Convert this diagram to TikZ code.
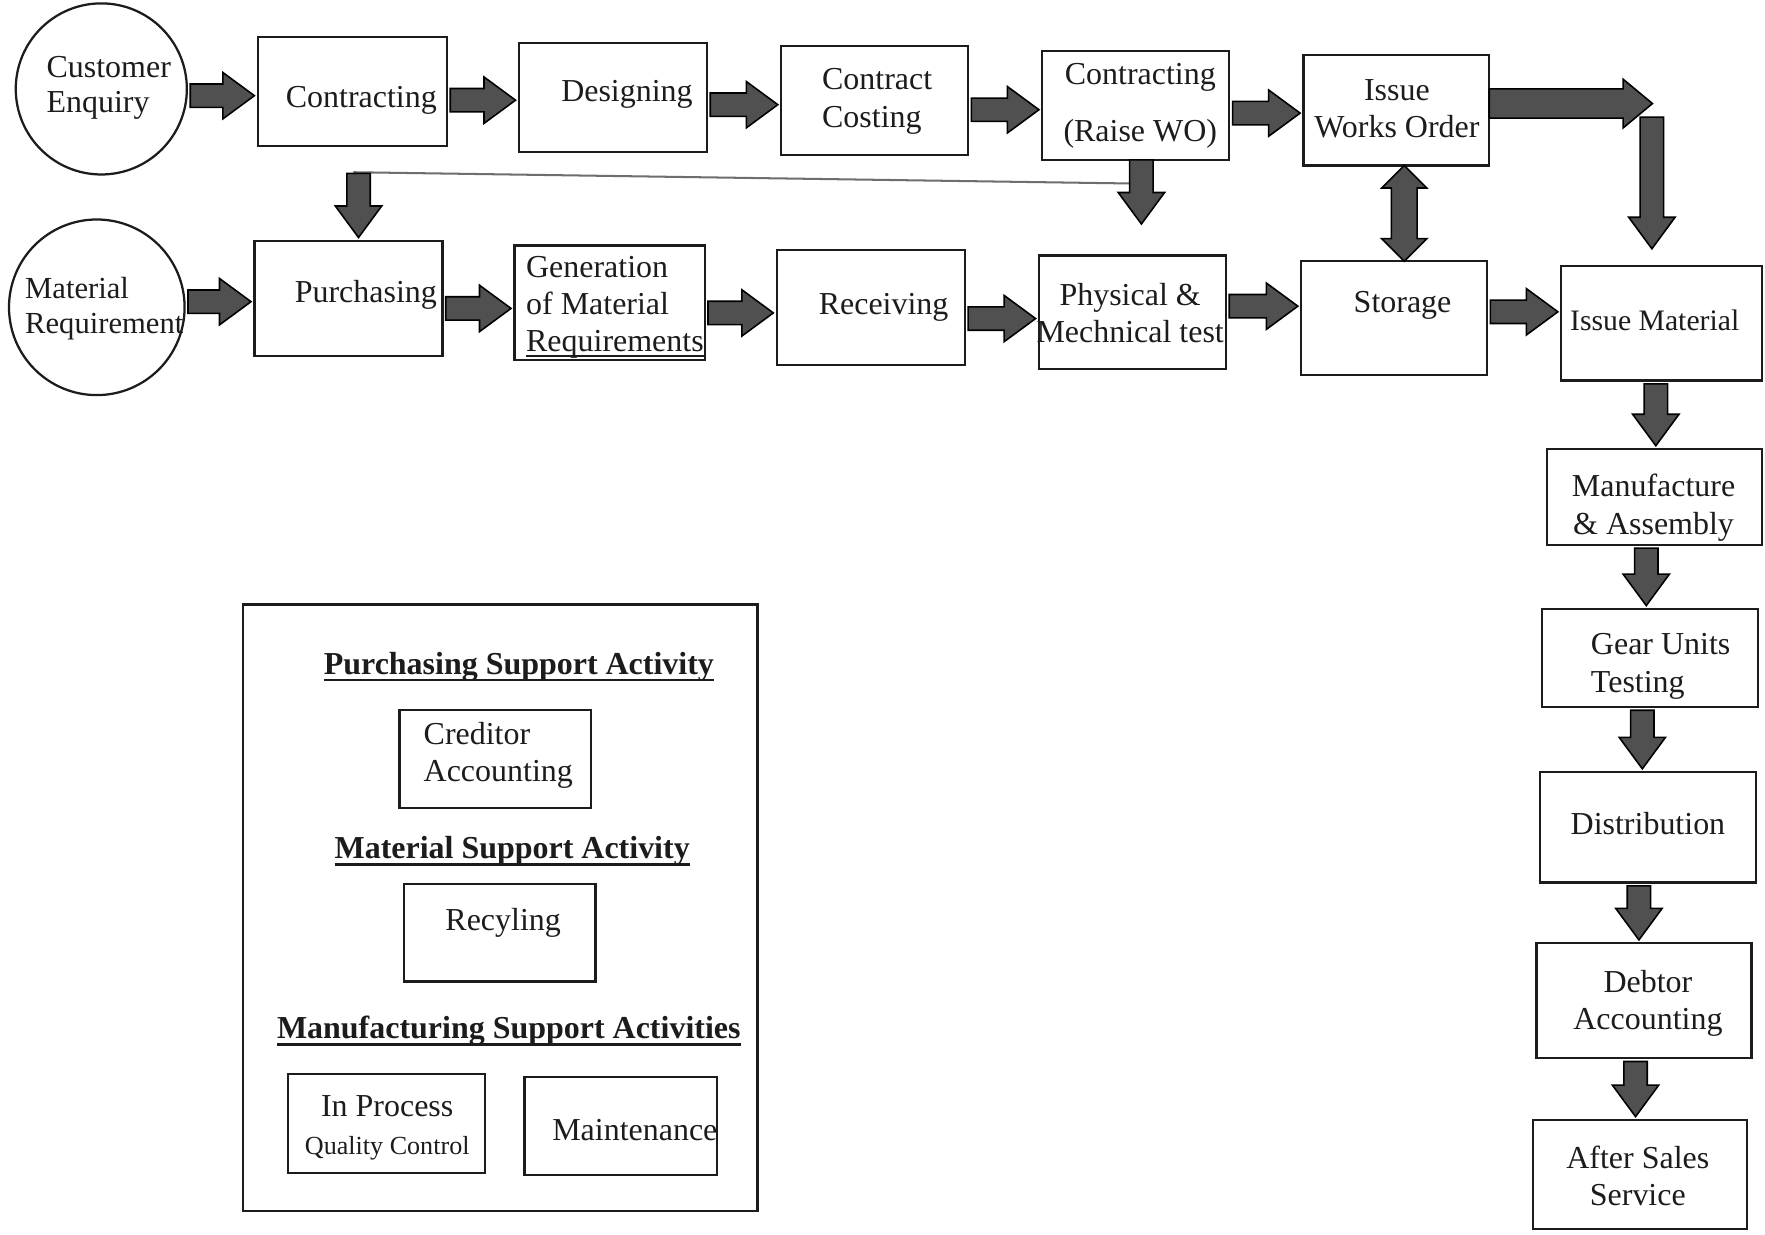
\documentclass[tikz,border=0pt]{standalone}
\usepackage{fontspec}
\setmainfont{Liberation Serif}
\usetikzlibrary{calc,fit}

\definecolor{ink}{HTML}{1C1C1C}
\definecolor{arrowfill}{HTML}{505050}
\definecolor{linkline}{HTML}{6E6E6E}

\newcommand\txtsize{\fontsize{14.2}{16.5}\selectfont}
\newcommand\smallsize{\fontsize{11.6}{14}\selectfont}
% text with a rule under it: depth of the rule, thickness, text
\newcommand\ulinebox[3]{\setbox0=\hbox{#3}\rlap{\rule[-#1]{\wd0}{#2}}\box0}

% sizes of the block arrows
\pgfkeys{/barrow/.cd,
  shaft/.store in=\bShaft, head/.store in=\bHead, len/.store in=\bLen,
  gapA/.store in=\bGapA, gapB/.store in=\bGapB,
  shaft=5.2pt, head=10.3pt, len=14pt, gapA=1.5pt, gapB=1.5pt}

% single-headed block arrow from #2 to #3
\newcommand\blockarrow[3][]{{%
  \pgfkeys{/barrow/.cd,#1}%
  \coordinate (ba-a) at (#2);
  \coordinate (ba-b) at (#3);
  \coordinate (ba-s) at ($(ba-a)!\bGapA!(ba-b)$);
  \coordinate (ba-e) at ($(ba-b)!\bGapB!(ba-a)$);
  \coordinate (ba-n) at ($(ba-e)!\bLen!(ba-s)$);
  \draw[blockarrow] ($(ba-s)!\bShaft!90:(ba-e)$) -- ($(ba-n)!\bShaft!-90:(ba-s)$)
     -- ($(ba-n)!\bHead!-90:(ba-s)$) -- (ba-e) -- ($(ba-n)!\bHead!90:(ba-s)$)
     -- ($(ba-n)!\bShaft!90:(ba-s)$) -- ($(ba-s)!\bShaft!-90:(ba-e)$) -- cycle;
}}

% double-headed block arrow between #2 and #3
\newcommand\doubleblockarrow[3][]{{%
  \pgfkeys{/barrow/.cd,#1}%
  \coordinate (da-a) at (#2);
  \coordinate (da-b) at (#3);
  \coordinate (da-s) at ($(da-a)!\bGapA!(da-b)$);
  \coordinate (da-e) at ($(da-b)!\bGapB!(da-a)$);
  \coordinate (da-m) at ($(da-s)!\bLen!(da-e)$);
  \coordinate (da-n) at ($(da-e)!\bLen!(da-s)$);
  \draw[blockarrow] (da-s) -- ($(da-m)!\bHead!90:(da-e)$) -- ($(da-m)!\bShaft!90:(da-e)$)
     -- ($(da-n)!\bShaft!-90:(da-s)$) -- ($(da-n)!\bHead!-90:(da-s)$) -- (da-e)
     -- ($(da-n)!\bHead!90:(da-s)$) -- ($(da-n)!\bShaft!90:(da-s)$)
     -- ($(da-m)!\bShaft!-90:(da-e)$) -- ($(da-m)!\bHead!-90:(da-e)$) -- cycle;
}}

\tikzset{
  box/.style={draw=ink, line width=1pt, inner sep=0pt, outer sep=0pt},
  roundbox/.style={draw=ink, line width=1pt, circle, inner sep=0pt, outer sep=0pt},
  lbl/.style={text=ink, font=\txtsize, inner sep=0pt, align=center},
  lbll/.style={lbl, align=left},
  heading/.style={text=ink, font=\txtsize\bfseries, inner sep=0pt, anchor=base},
  blockarrow/.style={draw=black, fill=arrowfill, line width=0.7pt, line join=miter},
  link/.style={draw=linkline, line width=0.9pt},
}

\begin{document}
\begin{tikzpicture}[x=0.5pt, y=-0.5pt]
\fill[white] (0,0) rectangle (1568,1097);
\useasboundingbox (0,0) rectangle (1568,1097);

% ---- order flow (top row) ----
\node[roundbox, minimum size=76pt] (ce) at (90,79) {};
\node[lbll, anchor=west, font=\fontsize{14.2}{15.5}\selectfont] (ce-t) at (41,78) {Customer\\Enquiry};
\node[box, fit={(229,33) (397,130)}] (contr) {};
\node[lbl] (contr-t) at (321,89) {Contracting};
\node[box, fit={(461,38) (628,135)}] (design) {};
\node[lbl] (design-t) at (557,84) {Designing};
\node[box, fit={(694,41) (860,138)}] (ccost) {};
\node[lbll, anchor=west] (ccost-t) at (730,90) {Contract\\Costing};
\node[box, fit={(926,45) (1092,142)}] (contr2) {};
\node[lbl, font=\fontsize{14.2}{25}\selectfont] (contr2-t) at (1013,94) {Contracting\\(Raise WO)};
\node[box, fit={(1158,49) (1323,147)}] (iwo) {};
\node[lbl] (iwo-t) at (1241,97) {Issue\\Works Order};

% ---- material flow (second row) ----
\node[roundbox, minimum size=78pt] (mr) at (86,273) {};
\node[lbll, anchor=west, font=\fontsize{13.6}{15.5}\selectfont] (mr-t) at (22,274) {Material\\Requirement};
\node[box, fit={(226,214) (393,316)}] (purch) {};
\node[lbl] (purch-t) at (325,262) {Purchasing};
\node[box, fit={(457,218) (626,320)}] (gen) {};
\node[lbll, anchor=west] (gen-t) at (467,273) {Generation\\of Material\\\ulinebox{2.2pt}{0.8pt}{Requirements}};
\node[box, fit={(690,222) (857,324)}] (recv) {};
\node[lbl] (recv-t) at (785,273) {Receiving};
\node[box, fit={(923,227) (1089,328)}] (phys) {};
\node[lbl] (phys-t) at (1004,278) {Physical \&\\Mechnical test};
\node[box, fit={(1156,232) (1321,333)}] (stor) {};
\node[lbl] (stor-t) at (1246,271) {Storage};
\node[box, fit={(1387,236) (1565,338)}] (issm) {};
\node[lbl, font=\fontsize{13.2}{16}\selectfont] (issm-t) at (1470,285) {Issue Material};

% ---- production and sales (right column) ----
\node[box, fit={(1374,399) (1565,484)}] (manu) {};
\node[lbl] (manu-t) at (1469,451) {Manufacture\\\& Assembly};
\node[box, fit={(1370,541) (1562,628)}] (gear) {};
\node[lbll, anchor=west] (gear-t) at (1413,592) {Gear Units\\Testing};
\node[box, fit={(1368,686) (1560,784)}] (dist) {};
\node[lbl] (dist-t) at (1464,732) {Distribution};
\node[box, fit={(1365,838) (1556,940)}] (debt) {};
\node[lbl] (debt-t) at (1464,891) {Debtor\\Accounting};
\node[box, fit={(1362,995) (1552,1092)}] (after) {};
\node[lbl] (after-t) at (1455,1045) {After Sales\\Service};

% ---- support activities ----
\node[box, fit={(216,537) (673,1076)}] (support) {};
\node[heading] (h-purch) at (461,599) {\ulinebox{3pt}{1.1pt}{Purchasing Support Activity}};
\node[box, fit={(355,631) (525,718)}] (cred) {};
\node[lbll, anchor=west] (cred-t) at (376,671) {Creditor\\Accounting};
\node[heading] (h-mat) at (455,763) {\ulinebox{3pt}{1.1pt}{Material Support Activity}};
\node[box, fit={(359,785) (529,872)}] (recy) {};
\node[lbl] (recy-t) at (447,820) {Recyling};
\node[heading] (h-manu) at (452,923) {\ulinebox{3pt}{1.1pt}{Manufacturing Support Activities}};
\node[box, fit={(256,954) (431,1042)}] (inproc) {};
\node[lbl] (inproc-t) at (344,1002) {In Process\\{\smallsize Quality Control}};
\node[box, fit={(466,957) (637,1044)}] (maint) {};
\node[lbl] (maint-t) at (564,1004) {Maintenance};

% ---- arrows, top row ----
\blockarrow{ce.east |- 0,85}{contr.west |- 0,85}
\blockarrow{contr.east |- 0,89}{design.west |- 0,89}
\blockarrow{design.east |- 0,93}{ccost.west |- 0,93}
\blockarrow{ccost.east |- 0,97.5}{contr2.west |- 0,97.5}
\blockarrow{contr2.east |- 0,100.5}{iwo.west |- 0,100.5}

% works order straight to material issue
\coordinate (elbowtip) at (1468,92);
\coordinate (elbow) at (1467.5,104);
\blockarrow[shaft=6.5pt, head=10.8pt, len=13pt, gapA=0pt, gapB=0pt]{iwo.east |- 0,92}{elbowtip}
\blockarrow[gapA=0pt, gapB=7.5pt]{elbow}{elbow |- issm.north}

% works order <-> storage
\doubleblockarrow[shaft=5.7pt, head=10pt, len=10pt, gapA=0pt, gapB=0pt]{iwo.south -| 1247.5,0}{stor.north -| 1247.5,0}

% work order feeding purchasing and testing
\coordinate (drop) at (1014,199);
\coordinate (lineR) at (1004,163);
\coordinate (lineL) at (314,153);
\coordinate (feed) at (318.5,154);
\draw[link] (lineR) -- (lineL);
\blockarrow[gapA=0pt, gapB=0pt]{contr2.south -| 1014,0}{drop}
\blockarrow[gapA=0pt]{feed}{feed |- purch.north}

% ---- arrows, second row ----
\blockarrow{mr.east |- 0,268}{purch.west |- 0,268}
\blockarrow{purch.east |- 0,274}{gen.west |- 0,274}
\blockarrow{gen.east |- 0,278}{recv.west |- 0,278}
\blockarrow{recv.east |- 0,283}{phys.west |- 0,283}
\blockarrow{phys.east |- 0,272}{stor.west |- 0,272}
\blockarrow{stor.east |- 0,277}{issm.west |- 0,277}

% ---- arrows, right column ----
\blockarrow{issm.south -| 1471,0}{manu.north -| 1471,0}
\blockarrow{manu.south -| 1462.5,0}{gear.north -| 1462.5,0}
\blockarrow{gear.south -| 1459,0}{dist.north -| 1459,0}
\blockarrow{dist.south -| 1456,0}{debt.north -| 1456,0}
\blockarrow{debt.south -| 1453,0}{after.north -| 1453,0}
\end{tikzpicture}
\end{document}
